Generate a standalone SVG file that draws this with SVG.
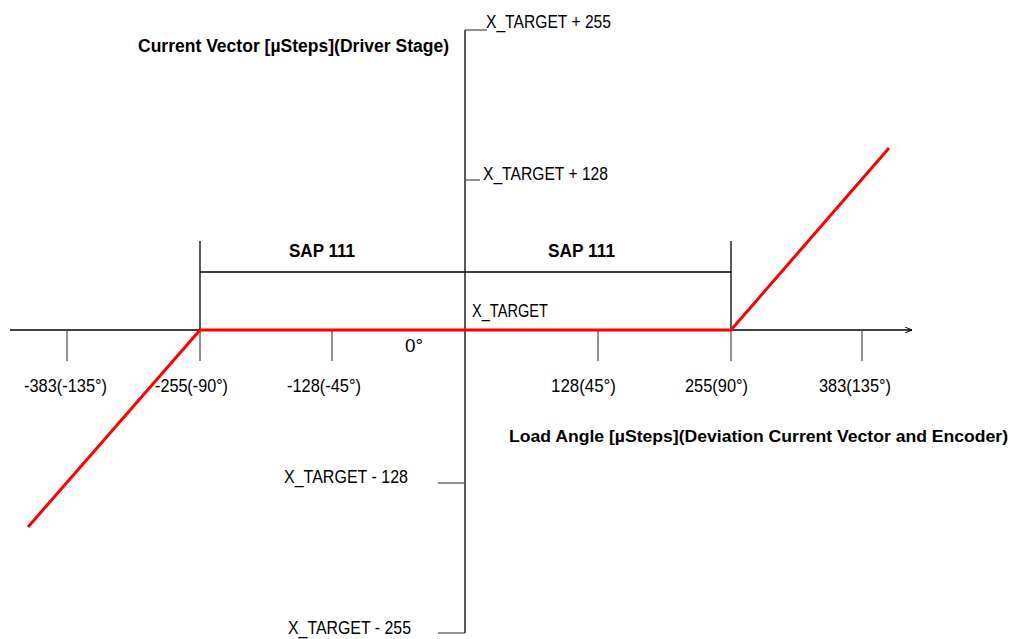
<svg xmlns="http://www.w3.org/2000/svg" width="1016" height="639" viewBox="0 0 1016 639">
<style>
text{font-family:"Liberation Sans",Arial,sans-serif;font-size:18px;fill:#000}
.b{font-weight:bold}
.ax{stroke:#000;stroke-width:1.3;fill:none}
.tk{stroke:#555;stroke-width:1.3;fill:none}
.red{stroke:#f00;stroke-width:3;fill:none}
</style>
<defs>
<marker id="arr" markerWidth="8" markerHeight="6" refX="7" refY="3" orient="auto" markerUnits="userSpaceOnUse">
<path d="M0,0 L7,3 L0,6" fill="none" stroke="#000" stroke-width="1"/>
</marker>
</defs>
<g id="connectors">
<line class="ax" x1="10" y1="330" x2="912" y2="330" marker-end="url(#arr)"/>
<line class="ax" x1="465" y1="30" x2="465" y2="633"/>
<line class="tk" x1="465" y1="30" x2="487" y2="30"/>
<line class="tk" x1="465" y1="180" x2="480" y2="180"/>
<line class="tk" x1="438" y1="483" x2="465" y2="483"/>
<line class="tk" x1="438" y1="633" x2="465" y2="633"/>
<line class="tk" x1="67" y1="330" x2="67" y2="361"/>
<line class="tk" x1="200" y1="330" x2="200" y2="361"/>
<line class="tk" x1="332" y1="330" x2="332" y2="361"/>
<line class="tk" x1="598" y1="330" x2="598" y2="361"/>
<line class="tk" x1="731" y1="330" x2="731" y2="361"/>
<line class="tk" x1="862" y1="330" x2="862" y2="361"/>
<line class="ax" x1="200" y1="241" x2="200" y2="330"/>
<line class="ax" x1="731" y1="241" x2="731" y2="330"/>
<line class="ax" x1="200" y1="272" x2="731" y2="272"/>
<polyline class="red" points="28,527 200,330 731,330 889,148"/>
</g>
<g id="labels">
<text class="b" x="138" y="52" textLength="311" lengthAdjust="spacingAndGlyphs">Current Vector [µSteps](Driver Stage)</text>
<text x="486" y="28" textLength="125" lengthAdjust="spacingAndGlyphs">X_TARGET + 255</text>
<text x="483" y="180" textLength="125" lengthAdjust="spacingAndGlyphs">X_TARGET + 128</text>
<text class="b" x="289" y="257" textLength="66" lengthAdjust="spacingAndGlyphs">SAP 111</text>
<text class="b" x="548" y="257" textLength="67" lengthAdjust="spacingAndGlyphs">SAP 111</text>
<text x="472" y="317" textLength="76" lengthAdjust="spacingAndGlyphs">X_TARGET</text>
<text x="405" y="352" textLength="18" lengthAdjust="spacingAndGlyphs">0°</text>
<text x="24" y="392" textLength="83" lengthAdjust="spacingAndGlyphs">-383(-135°)</text>
<text x="155" y="392" textLength="73" lengthAdjust="spacingAndGlyphs">-255(-90°)</text>
<text x="287" y="392" textLength="74" lengthAdjust="spacingAndGlyphs">-128(-45°)</text>
<text x="551" y="392" textLength="65" lengthAdjust="spacingAndGlyphs">128(45°)</text>
<text x="685" y="392" textLength="63" lengthAdjust="spacingAndGlyphs">255(90°)</text>
<text x="819" y="392" textLength="72" lengthAdjust="spacingAndGlyphs">383(135°)</text>
<text class="b" x="509" y="442" style="font-size:16px" textLength="499" lengthAdjust="spacingAndGlyphs">Load Angle [µSteps](Deviation Current Vector and Encoder)</text>
<text x="284" y="483" textLength="124" lengthAdjust="spacingAndGlyphs">X_TARGET - 128</text>
<text x="288" y="634" textLength="123" lengthAdjust="spacingAndGlyphs">X_TARGET - 255</text>
</g>
</svg>
